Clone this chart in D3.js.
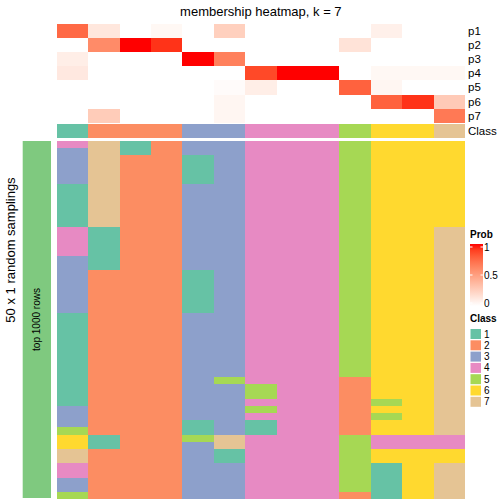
<!DOCTYPE html>
<html>
<head>
<meta charset="utf-8">
<script src="https://cdn.jsdelivr.net/npm/d3@7"></script>
<style>
  html, body { margin: 0; padding: 0; background: #fff; }
  svg { display: block; font-family: "Liberation Sans", Arial, Helvetica, sans-serif; }
</style>
</head>
<body>
<svg id="chart" width="504" height="504"></svg>
<script>
// ---------------- data ----------------
const columns = d3.range(13);
const probRows = ["p1", "p2", "p3", "p4", "p5", "p6", "p7"];
const p1 = [0.75, 0.13, 0, 0.04, 0, 0.25, 0, 0, 0, 0, 0.08, 0, 0];
const p2 = [0, 0.6, 1, 0.93, 0, 0, 0, 0, 0, 0.15, 0, 0, 0];
const p3 = [0.09, 0, 0, 0, 1, 0.65, 0, 0, 0, 0, 0, 0, 0];
const p4 = [0.12, 0, 0, 0, 0, 0, 0.87, 1, 1, 0, 0.04, 0.04, 0.04];
const p5 = [0, 0, 0, 0, 0, 0.02, 0.09, 0, 0, 0.78, 0.05, 0, 0];
const p6 = [0, 0, 0, 0, 0, 0.05, 0, 0, 0, 0, 0.78, 0.93, 0.28];
const p7 = [0, 0.27, 0, 0, 0, 0.05, 0, 0, 0, 0, 0, 0, 0.68];
const probValues = [p1, p2, p3, p4, p5, p6, p7];
const columnClass = [1, 2, 2, 2, 3, 3, 4, 4, 4, 5, 6, 6, 7];
const classLabels = ["1", "2", "3", "4", "5", "6", "7"];
const probTicks = [1, 0.5, 0];
// class of each column (left to right) for each of the 50 samplings (top to bottom)
const samplingClasses = [
  "43333311111144443333333311111111111113335667744335",
  "77777777777711111122222222222222222222222112222222",
  "11222222222222222222222222222222222222222222222222",
  "22222222222222222222222222222222222222222222222222",
  "33111133333333333311111133333333333333311533333333",
  "33333333333333333333333333333333353333333771133333",
  "44444444444444444444444444444444445545411444444444",
  "44444444444444444444444444444444444444444444444444",
  "44444444444444444444444444444444444444444444444444",
  "55555555555555555555555555555555522222222555555552",
  "66666666666666666666666666666666666656566446611111",
  "66666666666666666666666666666666666666666446666666",
  "66666666666677777777777777777777777777777446677777"
];
const nSamplings = 50;

// ---------------- layout ----------------
const svg = d3.select("#chart");
const x = d3.scaleBand().domain(columns).range([56.7, 465]).padding(0);
const yProb = d3.scaleBand().domain(probRows).range([24, 122.7]).padding(0);
const classRow = { y0: 124, y1: 137.7 };
const ySamp = d3.scaleBand().domain(d3.range(nSamplings)).range([141, 499]).padding(0);

const probColor = d3.scaleLinear().domain([0, 1]).range(["#ffffff", "#ff0000"]).interpolate(d3.interpolateLab);
const classColor = d3.scaleOrdinal().domain(classLabels).range(d3.schemeSet2.slice(0, 7));

// title
svg.append("text")
  .attr("x", (x.range()[0] + x.range()[1]) / 2).attr("y", 16)
  .attr("text-anchor", "middle").attr("font-size", 13)
  .text("membership heatmap, k = 7");

// probability heatmap
const probCells = [];
probValues.forEach((vals, ri) => vals.forEach((v, ci) => probCells.push({ row: probRows[ri], col: ci, v })));
svg.append("g").selectAll("rect").data(probCells).join("rect")
  .attr("x", d => x(d.col)).attr("y", d => yProb(d.row))
  .attr("width", x.bandwidth()).attr("height", yProb.bandwidth())
  .attr("fill", d => probColor(d.v))
  .attr("shape-rendering", "crispEdges");

// class annotation row
svg.append("g").selectAll("rect").data(columnClass).join("rect")
  .attr("x", (d, i) => x(i)).attr("y", classRow.y0)
  .attr("width", x.bandwidth()).attr("height", classRow.y1 - classRow.y0)
  .attr("fill", d => classColor(String(d)))
  .attr("shape-rendering", "crispEdges");

// row names
const rowLabelX = 468;
svg.append("g").selectAll("text").data(probRows).join("text")
  .attr("x", rowLabelX).attr("y", d => yProb(d) + yProb.bandwidth() / 2)
  .attr("dy", "0.35em").attr("font-size", 11.5).text(d => d);
svg.append("text")
  .attr("x", rowLabelX).attr("y", (classRow.y0 + classRow.y1) / 2)
  .attr("dy", "0.35em").attr("font-size", 11.5).text("Class");

// sampling heatmap
const sampCells = [];
samplingClasses.forEach((s, ci) => s.split("").forEach((c, ri) => sampCells.push({ col: ci, row: ri, c })));
svg.append("g").selectAll("rect").data(sampCells).join("rect")
  .attr("x", d => x(d.col)).attr("y", d => ySamp(d.row))
  .attr("width", x.bandwidth()).attr("height", ySamp.bandwidth())
  .attr("fill", d => classColor(d.c))
  .attr("shape-rendering", "crispEdges");

// left split bar
svg.append("rect")
  .attr("x", 22.7).attr("y", ySamp.range()[0])
  .attr("width", 51 - 22.7).attr("height", 498 - ySamp.range()[0])
  .attr("fill", d3.schemeAccent[0]);
svg.append("text")
  .attr("transform", `translate(${(22.7 + 51) / 2},${(141 + 498) / 2}) rotate(-90)`)
  .attr("text-anchor", "middle").attr("dy", "0.35em").attr("font-size", 10)
  .text("top 1000 rows");
svg.append("text")
  .attr("transform", `translate(10,250) rotate(-90)`)
  .attr("text-anchor", "middle").attr("dy", "0.35em").attr("font-size", 13)
  .text("50 x 1 random samplings");

// Prob legend
const legX = 470, legW = 13;
svg.append("text").attr("x", legX).attr("y", 238)
  .attr("font-size", 10).attr("font-weight", "bold").text("Prob");
const yLeg = d3.scaleLinear().domain([0, 1]).range([303, 247]);
const grad = svg.append("defs").append("linearGradient")
  .attr("id", "probGrad").attr("x1", 0).attr("y1", 1).attr("x2", 0).attr("y2", 0);
d3.range(0, 1.0001, 0.1).forEach(t => grad.append("stop").attr("offset", t).attr("stop-color", probColor(t)));
svg.append("rect").attr("x", legX).attr("y", 244).attr("width", legW).attr("height", 306 - 244)
  .attr("fill", "url(#probGrad)");
const tickG = svg.append("g").selectAll("g").data(probTicks).join("g")
  .attr("transform", d => `translate(0,${yLeg(d)})`);
tickG.append("line").attr("x1", legX).attr("x2", legX + 2.5).attr("stroke", "#fff").attr("stroke-width", 1);
tickG.append("line").attr("x1", legX + legW - 2.5).attr("x2", legX + legW).attr("stroke", "#fff").attr("stroke-width", 1);
tickG.append("text").attr("x", 484).attr("dy", "0.35em").attr("font-size", 10).text(d => d);

// Class legend
svg.append("text").attr("x", legX).attr("y", 322)
  .attr("font-size", 10).attr("font-weight", "bold").text("Class");
const classLeg = svg.append("g").selectAll("g").data(classLabels).join("g")
  .attr("transform", (d, i) => `translate(${legX},${329 + i * 11.3})`);
classLeg.append("rect").attr("x", 0.5).attr("width", 10.5).attr("height", 10)
  .attr("fill", d => classColor(d));
classLeg.append("text").attr("x", 14).attr("y", 5).attr("dy", "0.35em")
  .attr("font-size", 10).text(d => d);
</script>
</body>
</html>
